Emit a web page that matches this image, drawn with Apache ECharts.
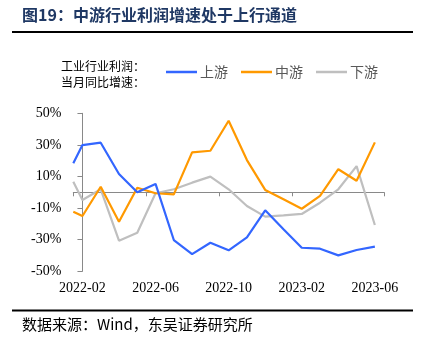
<!DOCTYPE html>
<html><head><meta charset="utf-8">
<script src="https://cdn.jsdelivr.net/npm/echarts@6/dist/echarts.min.js"></script>
<style>html,body{margin:0;padding:0;background:#fff}#c{width:425px;height:351px}</style>
</head><body><div id="c"></div>
<script>
// Month labels (category axis)
const months = ['2022-02','2022-03','2022-04','2022-05','2022-06','2022-07','2022-08','2022-09','2022-10','2022-11','2022-12','2023-01','2023-02','2023-03','2023-04','2023-05','2023-06'];
// time position of each point (month index; the first point sits half a month before 2022-02)
const xPos = [-0.5,0,1,2,3,4,5,6,7,8,9,10,11,12,13,14,15,16];
const upstream   = [18.4,29.9,31.4,11.6,0.0,5.3,-30.2,-39.1,-31.9,-36.7,-28.5,-11.4,-23.4,-35.1,-35.7,-39.9,-36.5,-34.4];
const midstream  = [-12.3,-15.0,3.5,-18.6,2.9,-0.6,-1.3,25.3,26.3,45.3,20.4,1.5,-4.4,-10.4,-2.3,14.6,7.3,31.6];
const downstream = [6.7,-4.9,1.9,-30.6,-25.6,-0.6,1.9,6.1,9.9,1.9,-8.7,-15.4,-14.6,-13.7,-6.6,1.9,16.6,-20.7];
const yTicks = [-50,-30,-10,10,30,50];
const seriesNames = ['上游','中游','下游'];
const colors = ['#3366FF','#FF9900','#BFBFBF'];

const chart = echarts.init(document.getElementById('c'), null, {renderer:'canvas'});
const pair = arr => arr.map((v,i)=>[xPos[i], v]);
const serif = '"Liberation Serif","Times New Roman",serif';
const cjk = '"Noto Sans CJK SC","Noto Sans",sans-serif';
chart.setOption({
  animation:false,
  backgroundColor:'#fff',
  grid:{left:73.3, right:41, top:113.3, bottom:79.7, containLabel:false},
  legend:{
    data:seriesNames, left:166, top:65, padding:0, icon:'rect', itemWidth:31, itemHeight:2.5, itemGap:13,
    textStyle:{color:'#595959', fontSize:14, fontFamily:cjk, padding:[0,0,0,-2]}
  },
  graphic:[
    {type:'text', left:22, top:7, style:{text:'图19：中游行业利润增速处于上行通道', fill:'#1F3864', font:'bold 16px '+cjk}},
    {type:'rect', shape:{x:12, y:31, width:401, height:2}, style:{fill:'#000'}},
    {type:'text', left:61, top:58, style:{text:'工业行业利润：\n当月同比增速：', fill:'#000', font:'12px '+cjk, lineHeight:16}},
    {type:'rect', shape:{x:12, y:309.5, width:401, height:2}, style:{fill:'#000'}},
    {type:'text', left:22, top:317, style:{text:'数据来源：Wind，东吴证券研究所', fill:'#000', font:'15px '+cjk}}
  ],
  xAxis:[
    {type:'value', min:-0.5, max:16.5, interval:4, position:'bottom',
     axisLine:{show:true, onZero:true, lineStyle:{color:'#898989', width:1}},
     axisTick:{show:true, inside:false, length:4, lineStyle:{color:'#898989'}},
     axisLabel:{show:false}, splitLine:{show:false}},
    {type:'category', data:months, boundaryGap:true, position:'bottom',
     axisLine:{show:false, onZero:false}, axisTick:{show:false},
     axisLabel:{interval:3, margin:10, color:'#000', fontSize:14, fontFamily:serif},
     splitLine:{show:false}}
  ],
  yAxis:{type:'value', min:yTicks[0], max:yTicks[yTicks.length-1], interval:20,
    axisLine:{show:true, lineStyle:{color:'#898989'}},
    axisTick:{show:true, length:5, lineStyle:{color:'#898989'}},
    axisLabel:{formatter:'{value}%', color:'#000', fontSize:14, fontFamily:serif, margin:12},
    splitLine:{show:false}},
  series:[upstream, midstream, downstream].map((d,i)=>({
    name:seriesNames[i], type:'line', xAxisIndex:0, data:pair(d), showSymbol:false, symbol:'none',
    lineStyle:{color:colors[i], width:2.2}, itemStyle:{color:colors[i]}, z:3-i
  }))
});
</script></body></html>
